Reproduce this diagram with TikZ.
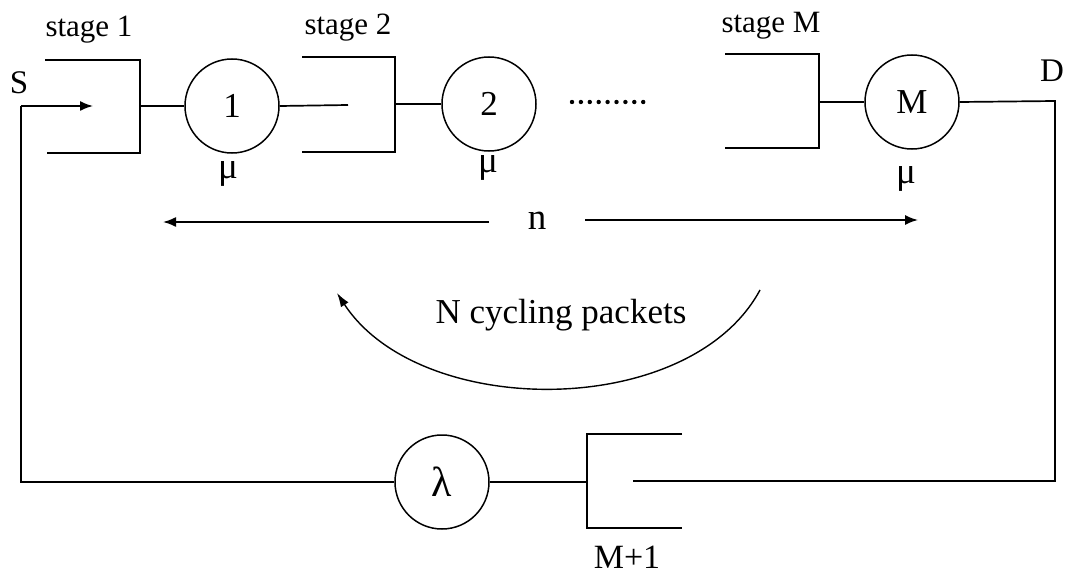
\documentclass[tikz,border=0pt]{standalone}
\usepackage{fontspec}
\setmainfont{Liberation Serif}
\usetikzlibrary{arrows.meta}
\begin{document}
\begin{tikzpicture}[x=1pt,y=-1pt,line width=1.7pt,
  srv/.style={draw,circle,minimum size=94pt,inner sep=0pt,line width=1.5pt,font=\fontsize{35}{35}\selectfont},
  lbl/.style={font=\fontsize{31}{31}\selectfont,inner sep=0pt,anchor=base},
  mulbl/.style={font=\fontsize{37}{37}\selectfont,inner sep=0pt,anchor=base},
  biglbl/.style={font=\fontsize{35}{35}\selectfont,inner sep=0pt,anchor=base},
  tipbig/.style={-{Latex[length=13pt,width=10pt]}},
  tipsmall/.style={-{Latex[length=14pt,width=9pt]}},
  wire/.style={line width=1.7pt}]
\useasboundingbox (0,0) rectangle (1065,575);

% servers
\node[srv] (c1) at (232,106) {1};
\node[srv] (c2) at (489,104) {2};
\node[srv] (cM) at (912,102) {M};
\node[srv,font=\fontsize{42}{42}\selectfont] (cL) at (442,482) {λ};

% queue corners
\coordinate (q1tl) at (45,60);  \coordinate (q1tr) at (140,60);
\coordinate (q1br) at (140,153); \coordinate (q1bl) at (47,153);
\coordinate (q1m) at (140,106);
\coordinate (q2tl) at (302,57); \coordinate (q2tr) at (395,57);
\coordinate (q2br) at (395,152); \coordinate (q2bl) at (302,152);
\coordinate (q2m) at (395,104); \coordinate (q2in) at (348,105);
\coordinate (qMtl) at (725,54); \coordinate (qMtr) at (819,54);
\coordinate (qMbr) at (819,148); \coordinate (qMbl) at (725,148);
\coordinate (qMm) at (819,102);
\coordinate (qLtl) at (682,434); \coordinate (qLtr) at (587,434);
\coordinate (qLbr) at (587,528); \coordinate (qLbl) at (682,528);
\coordinate (qLm) at (587,482); \coordinate (qLin) at (633,481);

% loop corners
\coordinate (Dtop) at (1055,101);
\coordinate (Dbot) at (1055,481);
\coordinate (Sbot) at (21,482);
\coordinate (Stop) at (21,106);
\coordinate (Stip) at (93,106);

% queues
\draw[wire] (q1tl) -- (q1tr) -- (q1br) -- (q1bl);
\draw[wire] (q2tl) -- (q2tr) -- (q2br) -- (q2bl);
\draw[wire] (qMtl) -- (qMtr) -- (qMbr) -- (qMbl);
\draw[wire] (qLtl) -- (qLtr) -- (qLbr) -- (qLbl);

% connections
\draw[wire] (q1m) -- (c1.west);
\draw[wire] (c1.east) -- (q2in);
\draw[wire] (q2m) -- (c2.west);
\draw[wire] (qMm) -- (cM.west);
\draw[wire] (cM.east) -- (Dtop) -- (Dbot) -- (qLin);
\draw[wire] (qLm) -- (cL.east);
\draw[wire] (cL.west) -- (Sbot) -- (Stop);
\draw[wire,tipbig] (Stop) -- (Stip);

% dots
\foreach \i in {0,...,8} \fill (572+\i*8.9,102) circle (2.2pt);

% labels
\node[lbl,font=\fontsize{33}{33}\selectfont] (S) at (19,94) {S};
\node[lbl,font=\fontsize{33}{33}\selectfont] (D) at (1052,82) {D};
\node[lbl] (st1) at (89,37) {stage 1};
\node[lbl] (st2) at (348,35) {stage 2};
\node[lbl] (stM) at (771,33) {stage M};
\node[mulbl] (mu1) at (228,178) {μ};
\node[mulbl] (mu2) at (488,172) {μ};
\node[mulbl] (muM) at (906,183) {μ};
\node[biglbl,font=\fontsize{37}{37}\selectfont] (n) at (537,229) {n};
\node[biglbl] (Ncyc) at (561,323) {N cycling packets};
\node[lbl,font=\fontsize{34}{34}\selectfont] (Mp1) at (627,568) {M+1};

% n arrows
\coordinate (nL1) at (489,222); \coordinate (nL2) at (163,222);
\coordinate (nR1) at (585,220); \coordinate (nR2) at (918,220);
\draw[wire,tipbig] (nL1) -- (nL2);
\draw[wire,tipbig] (nR1) -- (nR2);

% cycling arc
\coordinate (a1) at (760,290); \coordinate (a2) at (337,293);
\draw[line width=1.4pt,tipsmall] (a1) .. controls (690,420) and (420,420) .. (a2);
\end{tikzpicture}
\end{document}
